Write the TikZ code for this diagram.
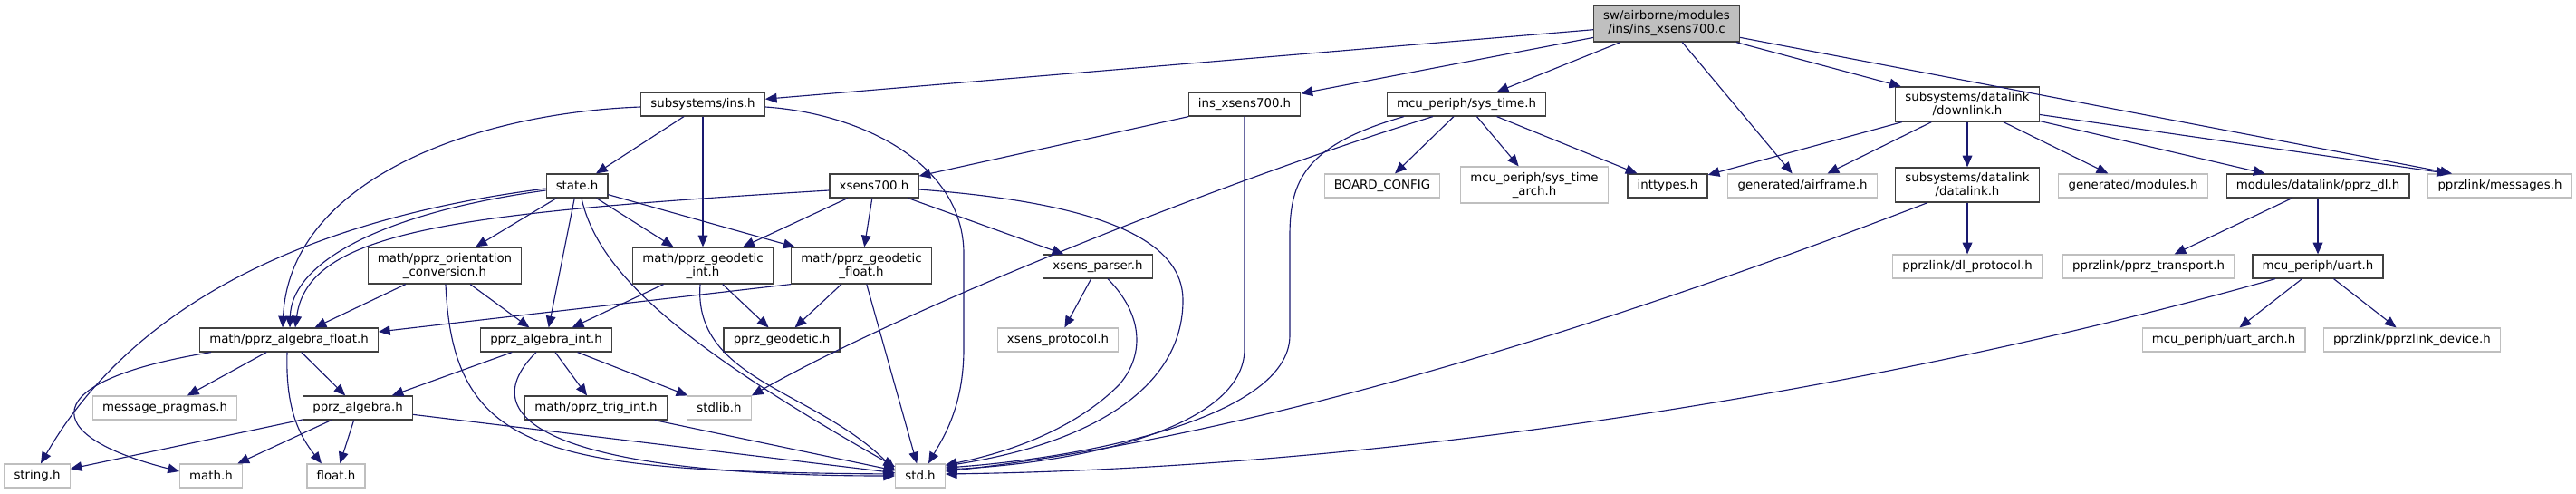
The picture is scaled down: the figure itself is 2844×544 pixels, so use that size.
\documentclass[tikz,border=0pt]{standalone}
\usepackage{fontspec}
\setmainfont{DejaVu Sans}
\usetikzlibrary{arrows.meta}

\definecolor{edgeblue}{HTML}{191970}
\definecolor{docgray}{HTML}{404040}
\definecolor{extgray}{HTML}{BFBFBF}

\begin{document}
\begin{tikzpicture}[x=0.75pt, y=-0.75pt, >={Triangle[length=9.5pt,width=8pt]},
  inc/.style={draw=docgray, line width=0.9pt, fill=white, inner xsep=8pt, inner ysep=4.4pt,
    minimum height=19.5pt, align=center, font=\fontsize{10pt}{11.25pt}\selectfont},
  incext/.style={inc, draw=extgray},
  srcnode/.style={inc, fill=extgray},
  incl/.style={->, draw=edgeblue, line width=0.85pt}]
  \useasboundingbox (0,0) rectangle (2844,544);

  % files
  \node[srcnode] (root) at (1840,26) {sw/airborne/modules\\/ins/ins\_xsens700.c};

  \node[inc] (ins) at (776,115) {subsystems/ins.h};
  \node[inc] (insx) at (1374,115) {ins\_xsens700.h};
  \node[inc] (systime) at (1619,115) {mcu\_periph/sys\_time.h};
  \node[inc] (downlink) at (2172,115) {subsystems/datalink\\/downlink.h};

  \node[inc] (state) at (637,205) {state.h};
  \node[inc] (xsens) at (965,205) {xsens700.h};
  \node[incext] (board) at (1526,205) {BOARD\_CONFIG};
  \node[incext] (starch) at (1694,204) {mcu\_periph/sys\_time\\\_arch.h};
  \node[inc] (inttypes) at (1841,205) {inttypes.h};
  \node[incext] (airframe) at (1990,205) {generated/airframe.h};
  \node[inc] (datalink) at (2172,204) {subsystems/datalink\\/datalink.h};
  \node[incext] (modules) at (2355,205) {generated/modules.h};
  \node[inc] (pprzdl) at (2559,205) {modules/datalink/pprz\_dl.h};
  \node[incext] (messages) at (2760,205) {pprzlink/messages.h};

  \node[inc] (orient) at (491,293) {math/pprz\_orientation\\\_conversion.h};
  \node[inc] (geoint) at (776,293) {math/pprz\_geodetic\\\_int.h};
  \node[inc] (geofloat) at (951,293) {math/pprz\_geodetic\\\_float.h};
  \node[inc] (parser) at (1212,294) {xsens\_parser.h};
  \node[incext] (dlproto) at (2172,294) {pprzlink/dl\_protocol.h};
  \node[incext] (transport) at (2372,294) {pprzlink/pprz\_transport.h};
  \node[inc] (uart) at (2559,294) {mcu\_periph/uart.h};

  \node[inc] (algf) at (319,375) {math/pprz\_algebra\_float.h};
  \node[inc] (algint) at (603,375) {pprz\_algebra\_int.h};
  \node[inc] (geodetic) at (863,375) {pprz\_geodetic.h};
  \node[incext] (protocol) at (1168,375) {xsens\_protocol.h};
  \node[incext] (uartarch) at (2455,375) {mcu\_periph/uart\_arch.h};
  \node[incext] (device) at (2663,375) {pprzlink/pprzlink\_device.h};

  \node[incext] (pragmas) at (182,450) {message\_pragmas.h};
  \node[inc] (algebra) at (395,450) {pprz\_algebra.h};
  \node[inc] (trig) at (658,450) {math/pprz\_trig\_int.h};
  \node[incext] (stdlib) at (794,450) {stdlib.h};

  \node[incext] (string) at (41,525) {string.h};
  \node[incext] (math) at (233,525) {math.h};
  \node[incext] (float) at (371,525) {float.h};
  \node[incext] (std) at (1016,525) {std.h};

  % includes of the source file
  \draw[incl] (root) -- (ins);
  \draw[incl] (root) -- (insx);
  \draw[incl] (root) -- (systime);
  \draw[incl] (root) -- (airframe);
  \draw[incl] (root) -- (downlink);
  \draw[incl] (root) -- ([shift={(-53,0)}]messages.north);

  % subsystems/ins.h
  \draw[incl] (ins) -- (state);
  \draw[incl] (ins) -- (geoint);
  \draw[incl] ([shift={(0,3)}]ins.west) .. controls (520,125) and (320,200) .. ([shift={(-7,0)}]algf.north);
  \draw[incl] ([shift={(0,3)}]ins.east) .. controls (950,125) and (1064,180) .. (1064,280)
    -- (1064,385) .. controls (1064,450) and (1040,485) .. ([shift={(9,0)}]std.north);

  % ins_xsens700.h
  \draw[incl] (insx) -- (xsens);
  \draw[incl] (insx.south) -- (1374,385) .. controls (1374,470) and (1200,510) .. ([shift={(0,-7)}]std.east);

  % mcu_periph/sys_time.h
  \draw[incl] (systime) -- (board);
  \draw[incl] (systime) -- (starch);
  \draw[incl] (systime) -- (inttypes);
  \draw[incl] ([shift={(-37,0)}]systime.south) .. controls (1350,200) and (1000,340) .. (stdlib.north east);
  \draw[incl] ([shift={(-69,0)}]systime.south) .. controls (1440,160) and (1424,200) .. (1424,260)
    -- (1424,370) .. controls (1424,460) and (1200,505) .. ([shift={(0,-9)}]std.east);

  % subsystems/datalink/downlink.h
  \draw[incl] (downlink) -- (inttypes);
  \draw[incl] (downlink) -- (airframe);
  \draw[incl] (downlink) -- (datalink);
  \draw[incl] (downlink) -- (modules);
  \draw[incl] (downlink) -- (pprzdl);
  \draw[incl] (downlink) -- ([shift={(-57,0)}]messages.north);

  \draw[incl] (datalink) -- (dlproto);
  \draw[incl] ([shift={(-44,0)}]datalink.south) .. controls (1800,350) and (1400,480) .. ([shift={(0,-5)}]std.east);

  \draw[incl] (pprzdl) -- (transport);
  \draw[incl] (pprzdl) -- (uart);

  \draw[incl] (uart) -- (uartarch);
  \draw[incl] (uart) -- (device);
  \draw[incl] ([shift={(-47,0)}]uart.south) .. controls (2150,410) and (1600,515) .. ([shift={(0,-2)}]std.east);

  % state.h
  \draw[incl] (state) -- (orient);
  \draw[incl] (state) -- (algint);
  \draw[incl] (state) -- (geoint);
  \draw[incl] (state) -- (geofloat);
  \draw[incl] ([shift={(0,5)}]state.west) .. controls (420,235) and (322,290) .. ([shift={(1,0)}]algf.north);
  \draw[incl] ([shift={(0,3)}]state.west) .. controls (350,240) and (150,330) .. ([shift={(4,0)}]string.north);
  \draw[incl] ([shift={(5,0)}]state.south) .. controls (660,300) and (750,380) .. ([shift={(0,-10)}]std.west);

  % xsens700.h
  \draw[incl] (xsens) -- (geoint);
  \draw[incl] (xsens) -- (geofloat);
  \draw[incl] (xsens) -- (parser);
  \draw[incl] ([shift={(0,5)}]xsens.west) .. controls (500,235) and (340,255) .. ([shift={(7,0)}]algf.north);
  \draw[incl] ([shift={(0,4)}]xsens.east) .. controls (1230,225) and (1305,270) .. (1306,330)
    .. controls (1307,430) and (1200,490) .. ([shift={(0,-11)}]std.east);

  \draw[incl] (parser) -- (protocol);
  \draw[incl] ([shift={(11,0)}]parser.south) .. controls (1265,350) and (1262,395) .. (1235,425)
    .. controls (1185,475) and (1110,500) .. ([shift={(0,-12)}]std.east);

  % geodetic
  \draw[incl] (geoint) -- (algint);
  \draw[incl] (geoint) -- (geodetic);
  \draw[incl] ([shift={(-3,0)}]geoint.south) .. controls (765,420) and (900,430) .. ([shift={(0,-6)}]std.west);
  \draw[incl] (geofloat) -- (geodetic);
  \draw[incl] (geofloat.south west) -- ([shift={(0,-9)}]algf.east);
  \draw[incl] (geofloat) -- (std);

  % orientation conversion
  \draw[incl] (orient) -- (algf);
  \draw[incl] (orient) -- (algint);
  \draw[incl] ([shift={(1,0)}]orient.south) .. controls (500,500) and (600,520) .. ([shift={(0,-2)}]std.west);

  % algebra
  \draw[incl] (algint) -- (algebra);
  \draw[incl] (algint) -- (trig);
  \draw[incl] (algint) -- (stdlib);
  \draw[incl] ([shift={(-11,0)}]algint.south) .. controls (510,470) and (640,525) .. (std.west);
  \draw[incl] (algf) -- (pragmas);
  \draw[incl] (algf) -- (algebra);
  \draw[incl] ([shift={(-86,0)}]algf.south) .. controls (40,420) and (40,480) .. ([shift={(0,-5)}]math.west);
  \draw[incl] ([shift={(-2,0)}]algf.south) .. controls (315,450) and (330,480) .. ([shift={(-16,0)}]float.north);
  \draw[incl] (algebra) -- (string);
  \draw[incl] (algebra) -- (math);
  \draw[incl] (algebra) -- (float);
  \draw[incl] (algebra) -- (std);
  \draw[incl] (trig) -- (std);
\end{tikzpicture}
\end{document}
